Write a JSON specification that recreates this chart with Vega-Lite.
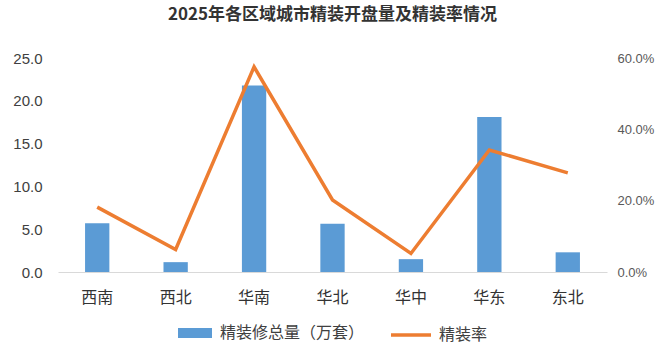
{
  "$schema": "https://vega.github.io/schema/vega-lite/v6.json",
  "autosize": {"type": "none"},
  "width": 549,
  "height": 214,
  "padding": {"left": 58, "top": 58, "right": 62, "bottom": 80},
  "background": "white",
  "title": {
    "text": "2025年各区域城市精装开盘量及精装率情况",
    "font": "Noto Sans CJK SC",
    "fontSize": 17,
    "fontWeight": "bold",
    "color": "#333333",
    "anchor": "middle",
    "offset": 27
  },
  "config": {
    "view": {"stroke": null},
    "axis": {"grid": false, "ticks": false}
  },
  "data": {
    "values": [
      {"region": "西南", "total": 5.7, "rate": 0.182},
      {"region": "西北", "total": 1.15, "rate": 0.063},
      {"region": "华南", "total": 21.8, "rate": 0.575},
      {"region": "华北", "total": 5.65, "rate": 0.202},
      {"region": "华中", "total": 1.5, "rate": 0.052},
      {"region": "华东", "total": 18.1, "rate": 0.342},
      {"region": "东北", "total": 2.3, "rate": 0.278}
    ]
  },
  "encoding": {
    "x": {
      "field": "region",
      "type": "nominal",
      "sort": null,
      "scale": {"paddingInner": 0.69, "paddingOuter": 0.345},
      "axis": {
        "title": null,
        "labelAngle": 0,
        "labelFont": "Noto Sans CJK SC",
        "labelFontSize": 16,
        "labelColor": "#333333",
        "labelPadding": 17,
        "domainColor": "#d9d9d9",
        "domainWidth": 1
      }
    }
  },
  "layer": [
    {
      "mark": {"type": "bar", "color": "#5B9BD5"},
      "encoding": {
        "y": {
          "field": "total",
          "type": "quantitative",
          "scale": {"domain": [0, 25]},
          "axis": {
            "title": null,
            "orient": "left",
            "values": [0, 5, 10, 15, 20, 25],
            "format": ".1f",
            "domain": false,
            "labelFont": "Liberation Sans",
            "labelFontSize": 15,
            "labelColor": "#404040",
            "labelPadding": 16
          }
        },
        "color": {
          "datum": "精装修总量（万套）",
          "scale": {"range": ["#5B9BD5"]},
          "legend": {
            "title": null,
            "orient": "none",
            "legendX": 120,
            "legendY": 258,
            "symbolType": "M-1,-0.3H1V0.3H-1Z",
            "symbolSize": 1156,
            "symbolStrokeWidth": 0,
            "labelFont": "Noto Sans CJK SC",
            "labelFontSize": 16,
            "labelColor": "#404040",
            "labelOffset": 8,
            "labelLimit": 300
          }
        }
      }
    },
    {
      "mark": {"type": "line", "color": "#ED7D31", "strokeWidth": 3.5},
      "encoding": {
        "y": {
          "field": "rate",
          "type": "quantitative",
          "scale": {"domain": [0, 0.6]},
          "axis": {
            "title": null,
            "orient": "right",
            "values": [0, 0.2, 0.4, 0.6],
            "format": ".1%",
            "domain": false,
            "labelFont": "Liberation Sans",
            "labelFontSize": 13,
            "labelColor": "#595959",
            "labelPadding": 10
          }
        },
        "color": {
          "datum": "精装率",
          "scale": {"range": ["#ED7D31"]},
          "legend": {
            "title": null,
            "orient": "none",
            "legendX": 331,
            "legendY": 255,
            "symbolType": "stroke",
            "symbolSize": 1600,
            "symbolStrokeWidth": 3.5,
            "labelFont": "Noto Sans CJK SC",
            "labelFontSize": 16,
            "labelColor": "#404040",
            "labelOffset": 6
          }
        }
      }
    }
  ],
  "resolve": {"scale": {"y": "independent", "color": "independent"}}
}
